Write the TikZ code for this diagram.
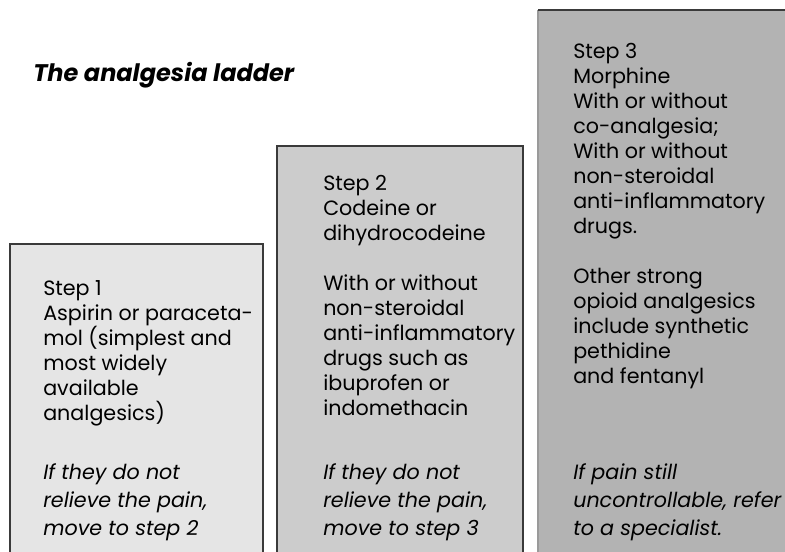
\documentclass[tikz,border=0pt]{standalone}
\usepackage{fontspec}
\setmainfont{Poppins}
\definecolor{step_light}{HTML}{E5E5E5}
\definecolor{step_mid}{HTML}{CCCCCC}
\definecolor{step_dark}{HTML}{B3B3B3}
\definecolor{edge_gray}{HTML}{3A3A3A}
\definecolor{edge_soft}{HTML}{9A9A9A}

\begin{document}
\begin{tikzpicture}[x=0.75pt,y=-0.75pt,
    stepbox/.style={draw=edge_gray,line width=1.1pt},
    steptext/.style={anchor=base west,align=left,inner sep=0,font=\fontsize{15.5}{18.75}\selectfont},
    notetext/.style={anchor=base west,align=left,inner sep=0,font=\fontsize{15.5}{21}\selectfont\itshape}]
    \useasboundingbox (0,0) rectangle (785,552);
    \clip (0,0) rectangle (785,552);
    % the three steps of the ladder
    \filldraw[stepbox,fill=step_light] (10,600) -- (10,244) -- (263,244) -- (263,600);
    \filldraw[stepbox,fill=step_mid] (277,600) -- (277,146) -- (523,146) -- (523,600);
    \fill[step_dark] (538,600) rectangle (800,10);
    \draw[edge_soft,line width=1.1pt] (538,600) -- (538,10);
    \draw[stepbox] (538,10) -- (800,10);
    \node[anchor=base west,inner sep=0,font=\fontsize{18}{20}\selectfont\bfseries\itshape] (title) at (33,82) {The analgesia ladder};
    % anchors sit on the last line of each block
    \node[steptext] (step1) at (43,420) {Step 1\\Aspirin or paraceta-\\mol (simplest and\\most widely\\available\\analgesics)};
    \node[steptext] (step2) at (323,415) {Step 2\\Codeine or\\dihydrocodeine\\[18.75pt]With or without\\non-steroidal\\anti-inflammatory\\drugs such as\\ibuprofen or\\indomethacin};
    \node[steptext] (step3) at (573,383) {Step 3\\Morphine\\With or without\\co-analgesia;\\With or without\\non-steroidal\\anti-inflammatory\\drugs.\\[18.75pt]Other strong\\opioid analgesics\\include synthetic\\pethidine\\and fentanyl};
    \node[notetext] (note1) at (43,535) {If they do not\\relieve the pain,\\move to step 2};
    \node[notetext] (note2) at (323,535) {If they do not\\relieve the pain,\\move to step 3};
    \node[notetext] (note3) at (573,535) {If pain still\\uncontrollable, refer\\to a specialist.};
\end{tikzpicture}
\end{document}
